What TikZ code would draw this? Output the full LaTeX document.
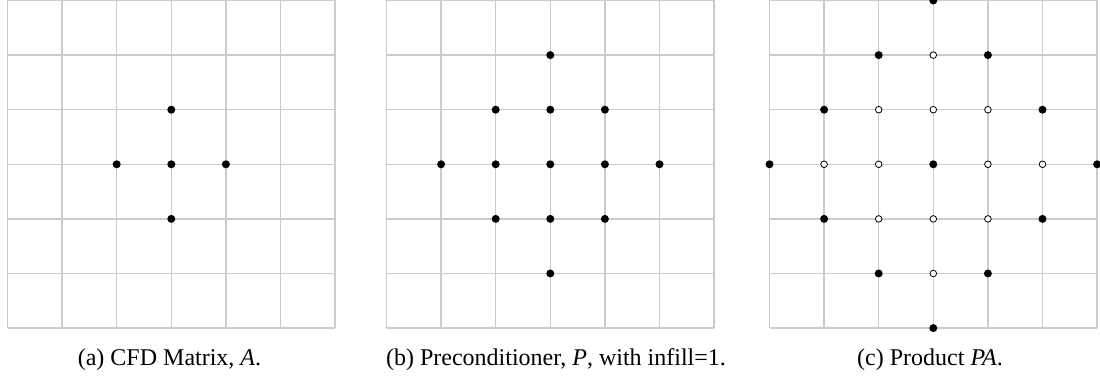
\documentclass[tikz,border=0pt]{standalone}
\usepackage{fontspec}
\setmainfont{Liberation Serif}
\definecolor{gridgray}{RGB}{204,204,204}
\begin{document}
\begin{tikzpicture}[x=0.5pt,y=-0.5pt,
  gridline/.style={draw=gridgray, line width=0.65pt},
  full/.style={circle, fill=black, inner sep=0pt, minimum size=4pt},
  hollow/.style={circle, draw=black, fill=white, line width=0.4pt, inner sep=0pt, minimum size=3.3pt},
  capt/.style={font=\fontsize{12}{14}\selectfont, anchor=base, inner sep=0pt}]
\useasboundingbox (0,0) rectangle (1100,378);
% grids
\foreach \gx in {7.5,386.5,769.5} {
  \foreach \i in {0,...,6} {
    \draw[gridline] ({\gx+\i*54.6},0.5) -- ({\gx+\i*54.6},328.1);
    \draw[gridline] (\gx,{0.5+\i*54.6}) -- ({\gx+327.6},{0.5+\i*54.6});
  }
}
% (a) CFD matrix
\foreach \i/\j in {3/2,2/3,3/3,4/3,3/4}
  \node[full] (a-\i-\j) at ({7.5+\i*54.6},{0.5+\j*54.6}) {};
% (b) preconditioner
\foreach \i/\j in {3/1,2/2,3/2,4/2,1/3,2/3,3/3,4/3,5/3,2/4,3/4,4/4,3/5}
  \node[full] (b-\i-\j) at ({386.5+\i*54.6},{0.5+\j*54.6}) {};
% (c) product
\foreach \i/\j in {3/0,2/1,4/1,1/2,5/2,0/3,3/3,6/3,1/4,5/4,2/5,4/5,3/6}
  \node[full] (c-\i-\j) at ({769.5+\i*54.6},{0.5+\j*54.6}) {};
\foreach \i/\j in {3/1,2/2,3/2,4/2,1/3,2/3,4/3,5/3,2/4,3/4,4/4,3/5}
  \node[hollow] (c-\i-\j) at ({769.5+\i*54.6},{0.5+\j*54.6}) {};
% captions
\node[capt] (capa) at (169.5,366) {(a) CFD Matrix, \textit{A}.};
\node[capt] (capb) at (556,366) {(b) Preconditioner, \textit{P}, with infill=1.};
\node[capt] (capc) at (930,366) {(c) Product \textit{PA}.};
\end{tikzpicture}
\end{document}
